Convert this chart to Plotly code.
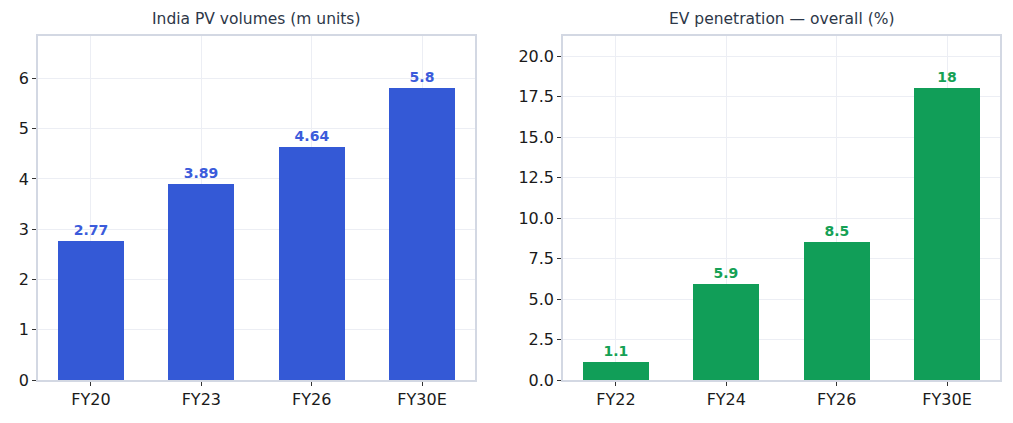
import plotly.graph_objects as go

pv_categories = ["FY20", "FY23", "FY26", "FY30E"]
pv_values = [2.77, 3.89, 4.64, 5.8]
ev_categories = ["FY22", "FY24", "FY26", "FY30E"]
ev_values = [1.1, 5.9, 8.5, 18]
pv_ticks = [0, 1, 2, 3, 4, 5, 6]
ev_ticks = [0, 2.5, 5, 7.5, 10, 12.5, 15, 17.5, 20]
ev_ticklabels = ["0.0", "2.5", "5.0", "7.5", "10.0", "12.5", "15.0", "17.5", "20.0"]

BLUE = "#3459d6"
BLUE_TXT = "#3b5bdb"
GREEN = "#119e58"
GREEN_TXT = "#15a155"
FONT = "DejaVu Sans"
SPINE = "#d3d8e3"
GRID = "#eceef4"
TICK_SIZE = 16
TITLE_SIZE = 15.5
LABEL_SIZE = 14

fig = go.Figure()
fig.add_trace(go.Bar(
    x=list(range(len(pv_categories))), y=pv_values, width=0.6,
    marker=dict(color=BLUE, line=dict(width=0)),
    text=[f"{v:g}" for v in pv_values], textposition="outside",
    textfont=dict(family=FONT, size=LABEL_SIZE, color=BLUE_TXT, weight="bold"),
    cliponaxis=False, xaxis="x", yaxis="y", showlegend=False,
))
fig.add_trace(go.Bar(
    x=list(range(len(ev_categories))), y=ev_values, width=0.6,
    marker=dict(color=GREEN, line=dict(width=0)),
    text=[f"{v:g}" for v in ev_values], textposition="outside",
    textfont=dict(family=FONT, size=LABEL_SIZE, color=GREEN_TXT, weight="bold"),
    cliponaxis=False, xaxis="x2", yaxis="y2", showlegend=False,
))

common_x = dict(
    showgrid=True, gridcolor=GRID, gridwidth=1, zeroline=False,
    showline=True, linecolor=SPINE, linewidth=1.5, mirror=True,
    ticks="outside", ticklen=4, tickcolor="#333333", tickwidth=1.2,
    tickfont=dict(family=FONT, size=TICK_SIZE, color="#1a1a1a"),
    range=[-0.48, 3.48], fixedrange=True,
)
common_y = dict(
    showgrid=True, gridcolor=GRID, gridwidth=1, zeroline=False,
    showline=True, linecolor=SPINE, linewidth=1.5, mirror=True,
    ticks="outside", ticklen=4, tickcolor="#333333", tickwidth=1.2,
    tickfont=dict(family=FONT, size=TICK_SIZE, color="#1a1a1a"),
)

plot_h = 423 - 36 - 43
title_y = 1 + (36 - 19) / plot_h

fig.update_layout(
    width=1013, height=423,
    margin=dict(l=38, r=13, t=36, b=43),
    paper_bgcolor="white", plot_bgcolor="white",
    bargap=0,
    xaxis=dict(common_x, domain=[0, 0.4543], tickmode="array",
               tickvals=list(range(len(pv_categories))), ticktext=pv_categories, anchor="y"),
    yaxis=dict(common_y, range=[0, max(pv_values) * 1.18], tickmode="array",
               tickvals=pv_ticks, ticktext=[str(t) for t in pv_ticks], anchor="x"),
    xaxis2=dict(common_x, domain=[0.5457, 1], tickmode="array",
                tickvals=list(range(len(ev_categories))), ticktext=ev_categories, anchor="y2"),
    yaxis2=dict(common_y, range=[0, max(ev_values) * 1.18], tickmode="array",
                tickvals=ev_ticks, ticktext=ev_ticklabels, anchor="x2"),
    annotations=[
        dict(text="India PV volumes (m units)", x=0.2272, xref="paper", xanchor="center",
             y=title_y, yref="paper", yanchor="middle",
             showarrow=False, font=dict(family=FONT, size=TITLE_SIZE, color="#2d3748")),
        dict(text="EV penetration — overall (%)", x=0.7728, xref="paper", xanchor="center",
             y=title_y, yref="paper", yanchor="middle",
             showarrow=False, font=dict(family=FONT, size=TITLE_SIZE, color="#2d3748")),
    ],
)

fig.write_html("out.html")
